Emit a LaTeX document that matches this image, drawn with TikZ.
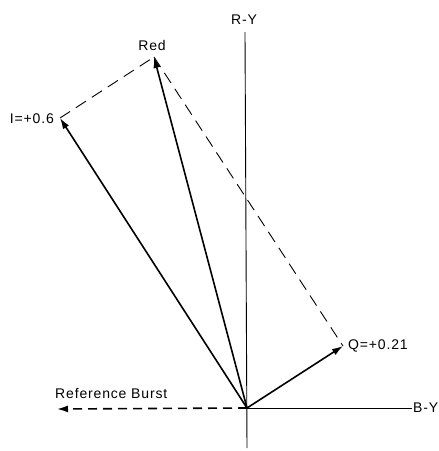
\documentclass[tikz,border=0pt]{standalone}
\usepackage{fontspec}
\setmainfont{Liberation Sans}
\newfontfamily\lblfont[LetterSpace=6]{Liberation Sans}
\usetikzlibrary{arrows.meta}
\begin{document}
\begin{tikzpicture}[x=1pt,y=-1pt,
  axis/.style={line width=0.9pt},
  vec/.style={line width=1.6pt,-{Latex[length=11pt,width=7pt]}},
  guide/.style={line width=0.9pt,dash pattern=on 12pt off 7pt},
  lbl/.style={font=\lblfont\fontsize{14}{15}\selectfont,inner sep=0pt}]
\useasboundingbox (0,0) rectangle (439,451);
\fill[white] (0,0) rectangle (439,451);
% points
\coordinate (O) at (247,408);
\coordinate (ryTop) at (245,32);
\coordinate (ryBot) at (247,448);
\coordinate (byEnd) at (412,408);
\coordinate (red) at (154,57);
\coordinate (I) at (60,118);
\coordinate (Q) at (343,346);
\coordinate (burst) at (57,409);
% axes
\draw[axis] (ryBot) -- (ryTop);
\draw[axis] (O) -- (byEnd);
% guide lines
\draw[guide] (I) -- (red);
\draw[guide] (red) -- (Q);
% vectors
\draw[vec] (O) -- (red);
\draw[vec] (O) -- (I);
\draw[vec] (O) -- (Q);
\draw[line width=1.6pt,dash pattern=on 9pt off 6pt,-{Latex[length=11pt,width=7pt]}] (O) -- (burst);
% labels
\node[lbl] (ryL) at (244,20) {R-Y};
\node[lbl,anchor=west] (byL) at (413,408) {B-Y};
\node[lbl] (redL) at (152,45) {Red};
\node[lbl,anchor=east] (iL) at (54,119) {I=+0.6};
\node[lbl,anchor=west] (qL) at (348,346) {Q=+0.21};
\node[lbl,anchor=west] (burstL) at (55,393) {Reference Burst};
\end{tikzpicture}
\end{document}
